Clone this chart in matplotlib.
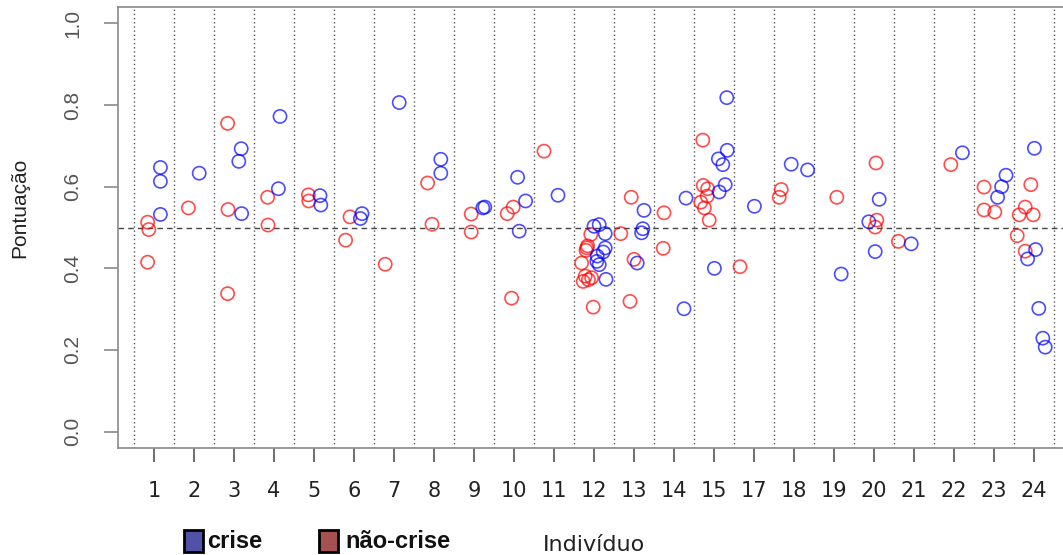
import matplotlib
matplotlib.use("Agg")
import matplotlib.pyplot as plt
from matplotlib.patches import Rectangle

# Individuals shown on the x axis (16 is absent)
individuos = ['1', '2', '3', '4', '5', '6', '7', '8', '9', '10', '11', '12',
              '13', '14', '15', '17', '18', '19', '20', '21', '22', '23', '24']

# Jittered slot position (1 = first individual) and score, "crise" sessions
crise_pos = [1.16, 1.16, 1.16,
             2.13,
             3.18, 3.12, 3.19,
             4.15, 4.11,
             5.15, 5.17,
             6.20, 6.16,
             7.13,
             8.17, 8.17,
             9.22, 9.27,
             10.09, 10.29, 10.13,
             11.10,
             12.00, 12.13, 12.28, 12.28, 12.23, 12.08, 12.07, 12.13, 12.30,
             13.25, 13.22, 13.19, 13.08,
             14.30, 14.25,
             15.32, 15.33, 15.11, 15.22, 15.28, 15.13, 15.01,
             16.01,
             16.93, 17.34,
             18.18,
             19.13, 18.87, 19.03,
             19.93,
             21.21,
             22.30, 22.19, 22.09,
             23.01, 23.04, 22.84, 23.12, 23.22, 23.28]
crise_pont = [0.647, 0.613, 0.532,
              0.633,
              0.693, 0.662, 0.534,
              0.772, 0.595,
              0.578, 0.555,
              0.534, 0.522,
              0.806,
              0.667, 0.633,
              0.548, 0.550,
              0.623, 0.565, 0.491,
              0.579,
              0.503, 0.507, 0.485, 0.450, 0.440, 0.430, 0.417, 0.409, 0.373,
              0.542, 0.497, 0.487, 0.413,
              0.572, 0.301,
              0.818, 0.689, 0.668, 0.654, 0.605, 0.587, 0.400,
              0.552,
              0.655, 0.641,
              0.386,
              0.569, 0.514, 0.441,
              0.460,
              0.683,
              0.628, 0.600, 0.574,
              0.694, 0.446, 0.423, 0.302, 0.229, 0.207]

# Same for "não-crise" sessions
naocrise_pos = [0.84, 0.87, 0.84,
                1.86,
                2.84, 2.85, 2.84,
                3.84, 3.85,
                4.86, 4.87,
                5.90, 5.79,
                6.78,
                7.84, 7.95,
                8.93, 8.93,
                9.83, 9.98, 9.94,
                10.75,
                11.92, 11.82, 11.80, 11.84, 11.69, 11.78, 11.73, 11.94, 11.86, 11.98,
                12.67, 12.93, 13.00, 12.90,
                13.75, 13.73,
                14.72, 14.73, 14.84, 14.83, 14.67, 14.76, 14.88,
                15.65,
                16.68, 16.63,
                18.07,
                19.05, 19.07, 19.03,
                19.61,
                20.92,
                21.75, 21.75, 22.02,
                22.92, 22.78, 22.63, 22.98, 22.58, 22.78]
naocrise_pont = [0.513, 0.495, 0.415,
                 0.548,
                 0.755, 0.544, 0.338,
                 0.574, 0.506,
                 0.580, 0.565,
                 0.526, 0.469,
                 0.410,
                 0.609, 0.508,
                 0.533, 0.489,
                 0.534, 0.550, 0.327,
                 0.687,
                 0.483, 0.450, 0.444, 0.455, 0.413, 0.381, 0.368, 0.377, 0.372, 0.305,
                 0.485, 0.574, 0.422, 0.319,
                 0.536, 0.449,
                 0.714, 0.603, 0.595, 0.577, 0.562, 0.548, 0.518,
                 0.404,
                 0.593, 0.574,
                 0.574,
                 0.658, 0.518, 0.501,
                 0.466,
                 0.654,
                 0.599, 0.543, 0.538,
                 0.605, 0.550, 0.531, 0.531, 0.480, 0.442]

y_ticks = [0.0, 0.2, 0.4, 0.6, 0.8, 1.0]
limiar = 0.5
legend_labels = ['crise', 'não-crise']

W, H = 1063, 555
fig = plt.figure(figsize=(W / 100, H / 100), dpi=100)
ax = fig.add_axes([118 / W, 107 / H, 952 / W, 441 / H])

n = len(individuos)
slots = list(range(1, n + 1))
ax.set_xlim(0.1, n + 0.9)
ax.set_ylim(-0.04, 1.04)

# separators between individuals and the 0.5 threshold
for b in range(n + 1):
    ax.axvline(b + 0.5, color='#555555', linestyle=(0, (1, 2)), linewidth=1.0, zorder=1)
ax.axhline(limiar, color='#444444', linestyle=(0, (4, 3)), linewidth=1.0, zorder=1)

ax.scatter(naocrise_pos, naocrise_pont, s=90, facecolors='none',
           edgecolors=(1, 0, 0, 0.7), linewidths=1.2, zorder=3)
ax.scatter(crise_pos, crise_pont, s=90, facecolors='none',
           edgecolors=(0, 0, 1, 0.7), linewidths=1.2, zorder=3)

for side in ['top', 'left', 'bottom', 'right']:
    ax.spines[side].set_color('#8a8a8a')
    ax.spines[side].set_linewidth(1.2)

ax.set_xticks(slots)
ax.set_xticklabels(individuos)
ax.set_yticks(y_ticks)
ax.set_yticklabels([f'{v:.1f}' for v in y_ticks])
ax.tick_params(axis='x', direction='out', length=10, width=1.2, color='#555555',
               pad=14, labelsize=15, labelcolor='#222222',
               labelfontfamily=['Liberation Sans Narrow', 'DejaVu Sans'])
ax.tick_params(axis='y', direction='out', length=10, width=1.2, color='#8a8a8a',
               pad=16, labelsize=15, labelcolor='#555555',
               labelfontfamily=['Liberation Sans', 'DejaVu Sans'])
for lab in ax.get_yticklabels():
    lab.set_rotation(90)
    lab.set_va('center')

ax.set_ylabel('Pontuação', fontsize=15, color='#222222',
              family=['Liberation Sans', 'DejaVu Sans'], va='center')
ax.yaxis.set_label_coords(-98 / 952, (448 - 208) / 441)
ax.set_xlabel('Indivíduo', fontsize=16, color='#222222', va='center',
              family=['Liberation Sans Narrow', 'DejaVu Sans'])
ax.xaxis.set_label_coords(0.5, -(545 - 448) / 441)

# legend keys drawn below the axis
key_colors = ['#5151a5', '#a55151']
key_x = [184, 319]
text_x = [207, 345]
for col, kx, tx, lab in zip(key_colors, key_x, text_x, legend_labels):
    fig.add_artist(Rectangle((kx / W, (H - 552) / H), 19 / W, 22 / H,
                             transform=fig.transFigure, facecolor=col,
                             edgecolor='black', linewidth=2))
    fig.text(tx / W, (H - 541) / H, lab, fontsize=17, fontweight='bold',
             va='center', ha='left', color='#111111',
             family=['Liberation Sans', 'DejaVu Sans'])

fig.savefig('out.png', dpi=100)
